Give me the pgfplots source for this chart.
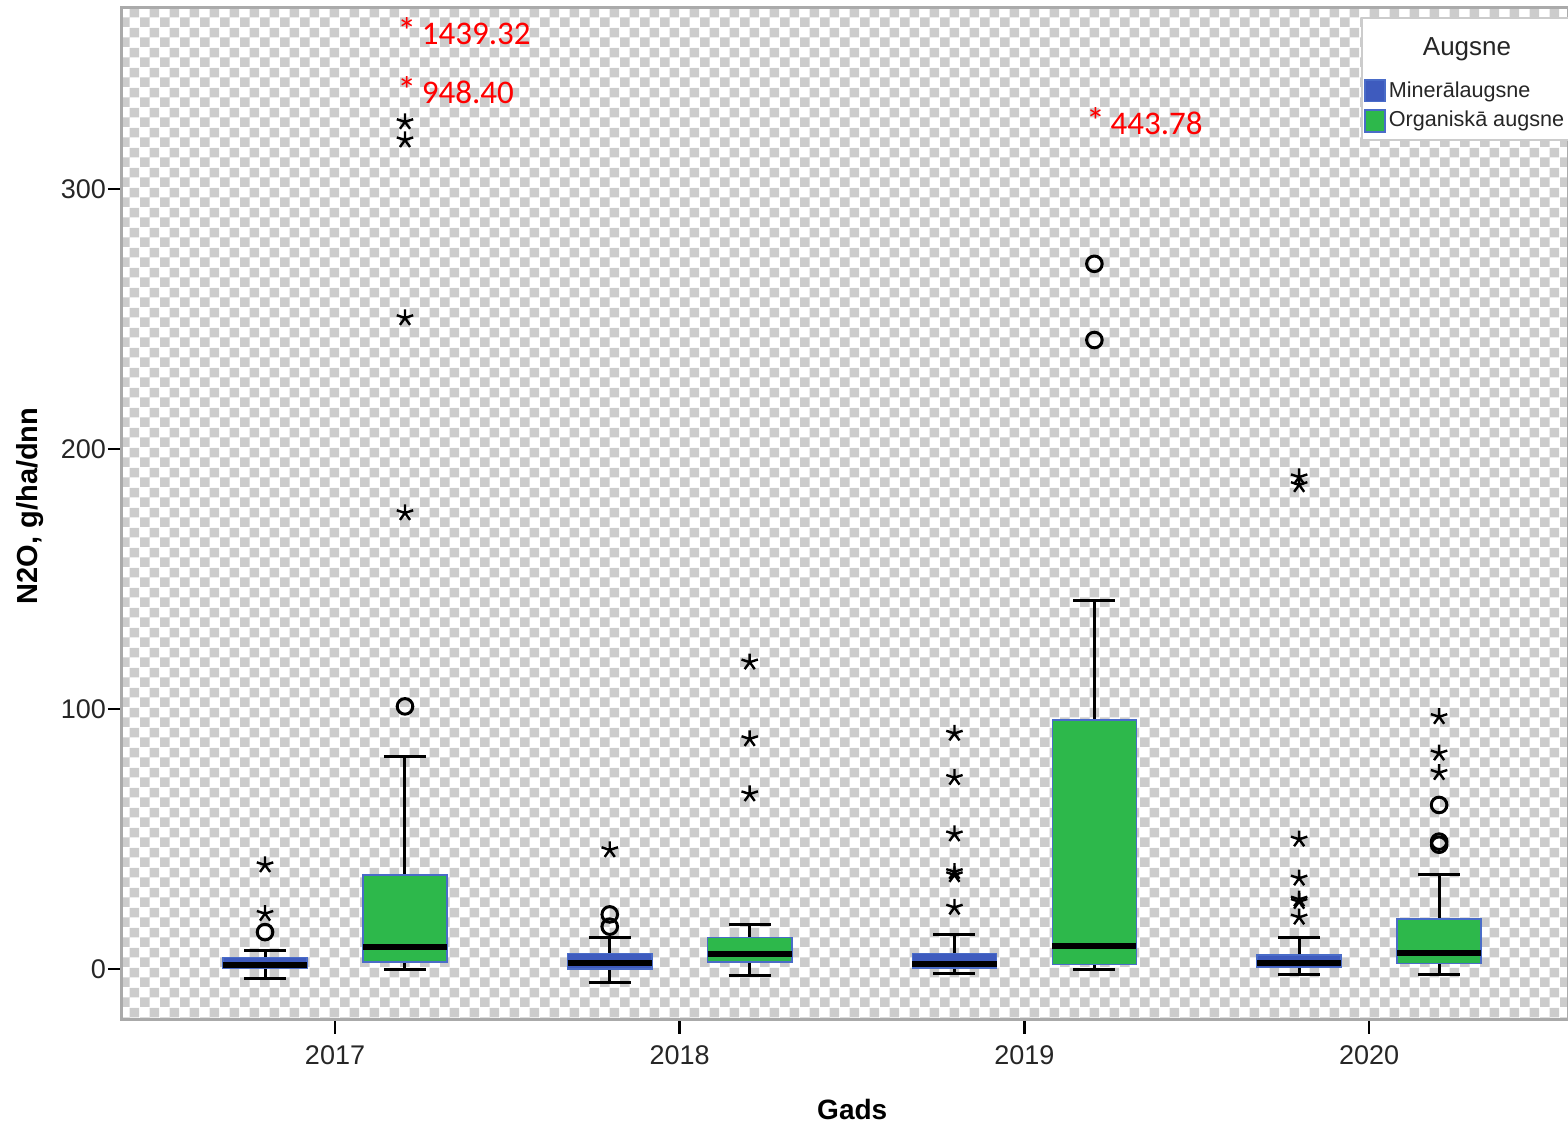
\documentclass[border=0pt]{standalone}
\usepackage{pgfplots}
\pgfplotsset{compat=1.18}
\usetikzlibrary{patterns}
\usepackage{fontspec}
\setmainfont{Liberation Sans}
\newfontfamily\carlito{Carlito}
\definecolor{mblue}{HTML}{3E5BBE}
\definecolor{mgreen}{HTML}{2DB84B}
\definecolor{boxedge}{HTML}{4A6CC8}
\definecolor{checkgray}{HTML}{CCCCCC}
\definecolor{framegray}{HTML}{AAAAAA}
\pgfdeclarepatternformonly{checker}{\pgfqpoint{0pt}{0pt}}{\pgfqpoint{10pt}{10pt}}{\pgfqpoint{10pt}{10pt}}{%
  \pgfpathrectangle{\pgfqpoint{0pt}{0pt}}{\pgfqpoint{5pt}{5pt}}%
  \pgfpathrectangle{\pgfqpoint{5pt}{5pt}}{\pgfqpoint{5pt}{5pt}}%
  \pgfusepath{fill}}

\pgfplotsset{
  circ/.style={only marks, mark=o, mark size=3.9pt, line width=1.5pt, draw=black},
  astr/.style={only marks, mark=star, mark size=4.3pt, line width=1.2pt, draw=black},
}
% box: #1 centre, #2 lower whisker, #3 lower quartile, #4 median, #5 upper quartile, #6 upper whisker, #7 fill colour
\newcommand\bx[7]{%
  \pgfmathsetmacro\xa{#1-0.122}\pgfmathsetmacro\xb{#1+0.122}%
  \pgfmathsetmacro\ca{#1-0.061}\pgfmathsetmacro\cb{#1+0.061}%
  \addplot[black, line width=1.5pt] coordinates {(#1,#5) (#1,#6)};
  \addplot[black, line width=1.5pt] coordinates {(\ca,#6) (\cb,#6)};
  \addplot[black, line width=1.5pt] coordinates {(#1,#3) (#1,#2)};
  \addplot[black, line width=1.5pt] coordinates {(\ca,#2) (\cb,#2)};
  \addplot[fill=#7, draw=boxedge, line width=0.8pt] coordinates {(\xa,#3) (\xb,#3) (\xb,#5) (\xa,#5) (\xa,#3)} -- cycle;
  \addplot[black, line width=3pt] coordinates {(\xa,#4) (\xb,#4)};
}
\newcommand\bigast{{\fontsize{19}{19}\selectfont *}}

\begin{document}
\begin{tikzpicture}
\useasboundingbox (-61pt,-53.5pt) rectangle (723pt,510pt);
\fill[pattern=checker, pattern color=checkgray] (0pt,0pt) rectangle (723pt,506pt);
\begin{axis}[
  at={(0pt,0pt)}, anchor=south west,
  width=723pt, height=506pt, scale only axis,
  xmin=-0.618, xmax=3.577, ymin=-19.6, ymax=369.6,
  axis line style={draw=framegray, line width=1.5pt},
  xtick={0,1,2,3}, xticklabels={2017,2018,2019,2020},
  ytick={0,100,200,300},
  tick pos=left, tick align=outside,
  major tick length=7pt,
  every tick/.style={black, line width=1.3pt},
  tick label style={font=\fontsize{13.5}{15}\selectfont, text=black!85},
  xticklabel style={yshift=-2.5pt},
  yticklabel style={xshift=2.5pt},
  /pgf/number format/assume math mode=true,
  xlabel={Gads}, ylabel={N2O, g/ha/dnn},
  xlabel style={at={(axis description cs:0.505,-0.0889)}, anchor=center, font=\bfseries\fontsize{14}{16}\selectfont},
  ylabel style={at={(axis description cs:-0.0636,0.508)}, anchor=center, font=\bfseries\fontsize{14.5}{16}\selectfont},
  clip=false,
]
% Mineralaugsne
\bx{-0.203}{-3.8}{0.3}{1.5}{4.5}{7.3}{mblue}
\bx{0.797}{-5.1}{0.0}{2.2}{6.0}{12.2}{mblue}
\bx{1.797}{-1.7}{0.3}{1.8}{6.0}{13.3}{mblue}
\bx{2.797}{-2.1}{0.6}{2.4}{5.4}{12.2}{mblue}
% Organiska augsne
\bx{0.203}{-0.1}{2.8}{8.3}{36.2}{81.9}{mgreen}
\bx{1.203}{-2.6}{2.8}{5.6}{12.2}{17.2}{mgreen}
\bx{2.203}{-0.1}{1.8}{9.0}{95.8}{141.9}{mgreen}
\bx{3.203}{-2.0}{2.2}{6.3}{19.2}{36.4}{mgreen}
% outliers (circles)
\addplot[circ] coordinates {(-0.203,14.2) (0.797,16.3) (0.797,21.0) (0.203,101.0) (2.203,271.2) (2.203,241.9) (3.203,63.1) (3.203,49.0) (3.203,47.8)};
% extreme values (stars)
\addplot[astr] coordinates {(-0.203,21.3) (-0.203,40.0) (0.797,45.8)
 (1.797,90.6) (1.797,73.6) (1.797,51.9) (1.797,37.4) (1.797,36.2) (1.797,23.7)
 (2.797,189.2) (2.797,186.2) (2.797,49.9) (2.797,34.9) (2.797,26.8) (2.797,25.9) (2.797,19.9)
 (0.203,175.4) (0.203,250.4) (0.203,318.8) (0.203,325.8)
 (1.203,118.0) (1.203,88.5) (1.203,67.3)
 (3.203,97.0) (3.203,83.0) (3.203,75.5)};
% off-scale values
\node[anchor=west, inner sep=0pt, text=red, font=\carlito\fontsize{16.5}{18}\selectfont] at (axis cs:0.180,360.8) {\bigast\,1439.32};
\node[anchor=west, inner sep=0pt, text=red, font=\carlito\fontsize{16.5}{18}\selectfont] at (axis cs:0.180,338.1) {\bigast\,948.40};
\node[anchor=west, inner sep=0pt, text=red, font=\carlito\fontsize{16.5}{18}\selectfont] at (axis cs:2.178,326.2) {\bigast\,443.78};
% legend
\draw[gray!40, fill=white, line width=1pt] (axis cs:2.979,318.8) rectangle (axis cs:3.7,365.8);
\node[font=\fontsize{13}{15}\selectfont, text=black!85] at (axis cs:3.284,353.6) {Augsne};
\filldraw[fill=mblue, draw=boxedge, line width=0.6pt] (axis cs:2.988,333.5) rectangle (axis cs:3.046,341.9);
\filldraw[fill=mgreen, draw=boxedge, line width=0.6pt] (axis cs:2.988,321.9) rectangle (axis cs:3.046,330.4);
\node[anchor=west, inner sep=0pt, font=\fontsize{10.8}{13}\selectfont, text=black!85] at (axis cs:3.056,337.5) {Minerālaugsne};
\node[anchor=west, inner sep=0pt, font=\fontsize{10.8}{13}\selectfont, text=black!85] at (axis cs:3.056,326.0) {Organiskā augsne};
\end{axis}
\end{tikzpicture}
\end{document}
